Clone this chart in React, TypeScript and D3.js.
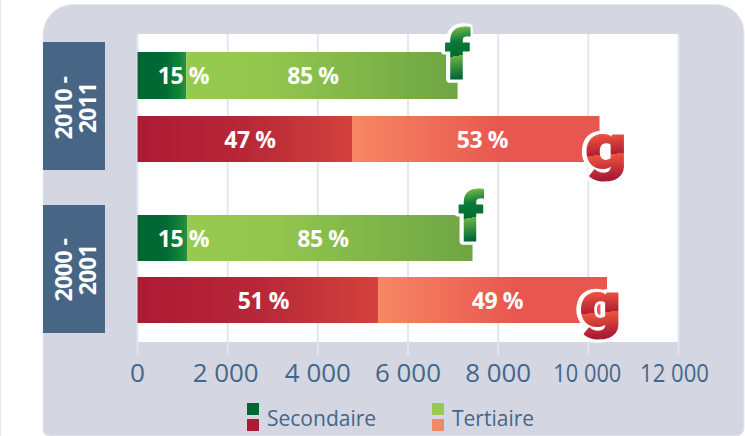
import React from "react";
import * as d3 from "d3";

const periods = ["2010 - 2011", "2000 - 2001"];
const periodLines = [["2010 -", "2011"], ["2000 -", "2001"]];
const sectors = ["f", "g"];
const secondaire = [[1085, 4758], [1109, 5335]];
const tertiaire = [[6015, 5490], [6322, 5080]];
const secondaireShare = [["15 %", "47 %"], ["15 %", "51 %"]];
const tertiaireShare = [["85 %", "53 %"], ["85 %", "49 %"]];
const ticks = [0, 2000, 4000, 6000, 8000, 10000, 12000];
const legendLabels = ["Secondaire", "Tertiaire"];

const x = d3.scaleLinear().domain([0, 12000]).range([137.5, 678.5]);
const barTop = [[52, 116], [215, 277]];
const barBottom = [[99, 162], [261, 323]];
const secLabelX = [[183.5, 250], [183.5, 263.5]];
const terLabelX = [[313, 482.5], [323, 497.5]];
const letterX = [[457.5, 606], [471, 600.5]];
const letterY = [[79, 168], [241, 326]];
const tickWidth = [15, 66, 66, 66, 66, 68, 69];
const tickNudge = [0, -2, 0, 0, 0, -1, -4];
const font = "'Open Sans', sans-serif";
const letterFont = "Roboto, sans-serif";
const axisColor = "#44668a";

function Grad({ id, stops, vertical }: { id: string; stops: [number, string][]; vertical?: boolean }) {
  return (
    <linearGradient id={id} x1="0" y1="0" x2={vertical ? 0.05 : 1} y2={vertical ? 1 : 0}>
      {stops.map(([o, c], i) => <stop key={i} offset={o} stopColor={c} />)}
    </linearGradient>
  );
}

function Letter({ ch, px, py }: { ch: string; px: number; py: number }) {
  const fill = ch === "f" ? "url(#lf)" : "url(#lg)";
  const sx = ch === "f" ? 1 : 1.16;
  const common = {
    fontFamily: letterFont, fontWeight: 900, fontSize: ch === "f" ? 68 : 62, textAnchor: "middle" as const,
    strokeLinejoin: "round" as const,
  };
  return (
    <g transform={`translate(${px} ${py}) scale(${sx} 1)`}>
      <text {...common} x={-1} fill="#fff" stroke="#fff" strokeWidth={7.5}>{ch}</text>
      <text {...common} fill={fill} stroke={fill} strokeWidth={1.2}>{ch}</text>
    </g>
  );
}

export default function App() {
  const fmt = (t: number) => d3.format(",")(t).replace(/,/g, " ");
  return (
    <svg width={745} height={436} style={{ position: "fixed", left: 0, top: 0 }}>
      <defs>
        <Grad id="dg" stops={[[0, "#006633"], [0.55, "#006a33"], [0.85, "#108339"], [1, "#2a9240"]]} />
        <Grad id="lgn" stops={[[0, "#97cb4f"], [0.3, "#92c64e"], [1, "#6fa544"]]} />
        <Grad id="dr" stops={[[0, "#ac1b34"], [0.5, "#b72737"], [1, "#d3423c"]]} />
        <Grad id="sa" stops={[[0, "#f68763"], [0.6, "#e8574f"], [1, "#e8574f"]]} />
        <Grad id="lf" vertical stops={[[0.12, "#93c84f"], [0.33, "#0b7c38"], [0.52, "#006a33"], [0.52, "#6db349"], [0.8, "#006633"]]} />
        <Grad id="lg" vertical stops={[[0.34, "#ef5440"], [0.63, "#b01e35"], [0.63, "#ef5440"], [0.97, "#a81933"]]} />
      </defs>
      <rect x={0} y={0} width={745} height={436} fill="#fff" />
      <rect x={0} y={0} width={1} height={436} fill="#e3e9f2" />
      <path d="M73 4.5 H716 A28 28 0 0 1 744 32.5 V428 A8 8 0 0 1 736 436 H49 A6 6 0 0 1 43 430 V34.5 A30 30 0 0 1 73 4.5 Z"
        fill="#d4d6e2" stroke="#e9eaf0" strokeWidth={1} />
      <rect x={138} y={34} width={x(12000) - 138} height={308} fill="#fff" />
      {ticks.map((t, i) => (
        <g key={t}>
          <line x1={x(t)} x2={x(t)} y1={34} y2={355} stroke="#e2e6ee" strokeWidth={2} />
          <text x={x(t) + tickNudge[i]} y={381.5} textAnchor="middle" fontFamily={font} fontSize={26} fill={axisColor}
            textLength={tickWidth[i]} lengthAdjust="spacingAndGlyphs">{fmt(t)}</text>
        </g>
      ))}
      {periods.map((p, i) => {
        const boxY = i === 0 ? 42 : 205;
        const boxH = 128;
        const cy = boxY + boxH / 2 + (i === 0 ? 2 : 1);
        return (
          <g key={p}>
            <rect x={43} y={boxY} width={62} height={boxH} fill="#476686" />
            <text transform={`translate(72 ${cy}) rotate(-90)`} textAnchor="middle" fontFamily={font} fontWeight={700} fontSize={23} fill="#fff" letterSpacing={-0.5}>
              <tspan x={0} y={0}>{periodLines[i][0]}</tspan>
              <tspan x={0} y={24}>{periodLines[i][1]}</tspan>
            </text>
          </g>
        );
      })}
      {periods.map((p, i) =>
        sectors.map((s, j) => {
          const sec = secondaire[i][j];
          const ter = tertiaire[i][j];
          const y0 = barTop[i][j];
          const h = barBottom[i][j] - y0;
          const mid = y0 + h / 2 + 8.5;
          const x0 = x(0), x1 = x(sec), x2 = x(sec + ter);
          return (
            <g key={p + s}>
              <rect x={x0} y={y0} width={x1 - x0} height={h} fill={j === 0 ? "url(#dg)" : "url(#dr)"} />
              <rect x={x1} y={y0} width={x2 - x1} height={h} fill={j === 0 ? "url(#lgn)" : "url(#sa)"} />
              <text x={secLabelX[i][j]} y={mid} textAnchor="middle" fontFamily={font} fontWeight={700} fontSize={23} fill="#fff" letterSpacing={-0.4}>
                {secondaireShare[i][j]}
              </text>
              <text x={terLabelX[i][j]} y={mid} textAnchor="middle" fontFamily={font} fontWeight={700} fontSize={23} fill="#fff" letterSpacing={-0.4}>
                {tertiaireShare[i][j]}
              </text>
              <Letter ch={s} px={letterX[i][j]} py={letterY[i][j]} />
            </g>
          );
        })
      )}
      {legendLabels.map((l, i) => {
        const lx = i === 0 ? 247 : 432;
        return (
          <g key={l}>
            <rect x={lx} y={403} width={12} height={12} fill={i === 0 ? "#006633" : "#97cb4f"} />
            <rect x={lx} y={419} width={12} height={12} fill={i === 0 ? "#ac1b34" : "#f68763"} />
            <text x={lx + 20} y={426} fontFamily={font} fontSize={21} fill={axisColor}>{l}</text>
          </g>
        );
      })}
    </svg>
  );
}
